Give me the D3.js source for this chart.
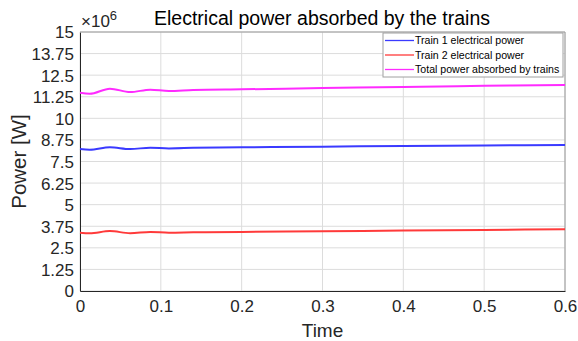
<!DOCTYPE html>
<html>
<head>
<meta charset="utf-8">
<script src="https://cdn.jsdelivr.net/npm/d3@7"></script>
<style>
  body { margin: 0; background: #fff; }
  text { font-family: "Liberation Sans", Arial, sans-serif; }
</style>
</head>
<body>
<div id="chart"></div>
<script>
// values in units of 1e6 W
const time   = [0, 0.012, 0.037, 0.062, 0.087, 0.11, 0.14, 0.2, 0.3, 0.4, 0.5, 0.6];
const train1 = [8.22, 8.18, 8.32, 8.22, 8.30, 8.26, 8.29, 8.32, 8.36, 8.40, 8.43, 8.46];
const train2 = [3.38, 3.34, 3.47, 3.35, 3.42, 3.38, 3.40, 3.42, 3.46, 3.50, 3.54, 3.58];
const total  = [11.48, 11.42, 11.72, 11.52, 11.66, 11.58, 11.64, 11.68, 11.75, 11.82, 11.88, 11.93];
const yTicks = [0, 1.25, 2.5, 3.75, 5, 6.25, 7.5, 8.75, 10, 11.25, 12.5, 13.75, 15];
const xTicks = [0, 0.1, 0.2, 0.3, 0.4, 0.5, 0.6];

const series = [
  { name: "Train 1 electrical power", values: train1, color: "#3a3aff" },
  { name: "Train 2 electrical power", values: train2, color: "#ff3a3a" },
  { name: "Total power absorbed by trains", values: total, color: "#ff2bff" }
];

const W = 578, H = 341;
const margin = { top: 32, right: 13, bottom: 50, left: 80 };
const width = W - margin.left - margin.right;
const height = H - margin.top - margin.bottom;

const svg = d3.select("#chart").append("svg")
  .attr("width", W).attr("height", H);
const g = svg.append("g").attr("transform", `translate(${margin.left},${margin.top})`);

const x = d3.scaleLinear().domain([0, 0.6]).range([0, width]);
const y = d3.scaleLinear().domain([0, 15]).range([height, 0]);

// grid
g.append("g").selectAll("line").data(yTicks).enter().append("line")
  .attr("x1", 0).attr("x2", width)
  .attr("y1", d => y(d)).attr("y2", d => y(d))
  .attr("stroke", "#dcdcdc").attr("stroke-width", 1);
g.append("g").selectAll("line").data(xTicks).enter().append("line")
  .attr("y1", 0).attr("y2", height)
  .attr("x1", d => x(d)).attr("x2", d => x(d))
  .attr("stroke", "#dcdcdc").attr("stroke-width", 1);

// axes
const xAxis = g.append("g").attr("transform", `translate(0,${height})`)
  .call(d3.axisBottom(x).tickValues(xTicks).tickSize(0).tickPadding(9).tickFormat(d => d));
const yAxis = g.append("g")
  .call(d3.axisLeft(y).tickValues(yTicks).tickSize(0).tickPadding(6).tickFormat(d => d));
[xAxis, yAxis].forEach(a => {
  a.select(".domain").attr("stroke", "#262626");
  a.selectAll("text").attr("font-size", 17).attr("fill", "#262626")
    .style("font-family", "Liberation Sans, Arial, sans-serif");
});
yAxis.selectAll("text").attr("dy", "0.35em");

// box top/right
g.append("line").attr("x1", 0).attr("x2", width).attr("y1", 0).attr("y2", 0).attr("stroke", "#9a9a9a");
g.append("line").attr("x1", width).attr("x2", width).attr("y1", 0).attr("y2", height).attr("stroke", "#9a9a9a");

// lines
const line = d3.line()
  .x((d, i) => x(time[i]))
  .y(d => y(d))
  .curve(d3.curveMonotoneX);
series.forEach(s => {
  g.append("path").datum(s.values)
    .attr("fill", "none")
    .attr("stroke", s.color)
    .attr("stroke-width", 2)
    .attr("d", line);
});

// title, labels
svg.append("text").attr("x", 322).attr("y", 25).attr("text-anchor", "middle")
  .attr("font-size", 19.5).attr("fill", "#000")
  .text("Electrical power absorbed by the trains");
const exp = svg.append("text").attr("x", 81).attr("y", 27).attr("font-size", 17).attr("fill", "#262626");
exp.append("tspan").text("\u00d710");
exp.append("tspan").attr("font-size", 13).attr("dy", -7).text("6");
svg.append("text").attr("x", margin.left + width / 2).attr("y", 337).attr("text-anchor", "middle")
  .attr("font-size", 19).attr("fill", "#262626").text("Time");
svg.append("text").attr("transform", `translate(26,${margin.top + height / 2}) rotate(-90)`)
  .attr("text-anchor", "middle").attr("font-size", 20.5).attr("fill", "#262626").text("Power [W]");

// legend
const lg = svg.append("g").attr("transform", "translate(383,33)");
lg.append("rect").attr("width", 180).attr("height", 44)
  .attr("fill", "#fff").attr("stroke", "#a0a0a0").attr("stroke-width", 1);
series.forEach((s, i) => {
  const yy = 7.5 + i * 14.5;
  lg.append("line").attr("x1", 2).attr("x2", 31).attr("y1", yy).attr("y2", yy)
    .attr("stroke", s.color).attr("stroke-width", 1.3);
  lg.append("text").attr("x", 32).attr("y", yy).attr("dy", "0.35em")
    .attr("font-size", 10.6).attr("fill", "#000").text(s.name);
});
</script>
</body>
</html>
